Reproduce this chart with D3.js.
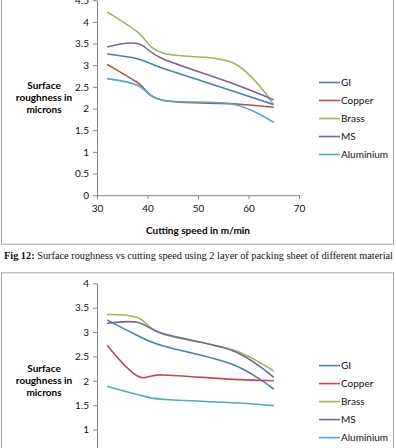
<!DOCTYPE html>
<html>
<head>
<meta charset="utf-8">
<script src="https://cdn.jsdelivr.net/npm/d3@7"></script>
<style>
  body { margin: 0; background: #fff; }
  svg { display: block; }
</style>
</head>
<body>
<div id="chart"></div>
<script>
const speeds = [32, 38, 43, 57, 65];
const materials = ["GI", "Copper", "Brass", "MS", "Aluminium"];
const materialColors = ["#4a7ebb", "#be4b48", "#98b954", "#7d60a0", "#4bacc6"];
const xTicks = [30, 40, 50, 60, 70];

// top chart (Fig 12, 2 layers of packing sheet)
const fig12GI = [3.26, 3.15, 2.93, 2.40, 2.09];
const fig12Copper = [3.02, 2.60, 2.19, 2.11, 2.03];
const fig12Brass = [4.23, 3.77, 3.28, 3.05, 2.09];
const fig12MS = [3.42, 3.50, 3.15, 2.57, 2.20];
const fig12Aluminium = [2.69, 2.54, 2.19, 2.10, 1.68];
const fig12YTicks = [0, 0.5, 1, 1.5, 2, 2.5, 3, 3.5, 4, 4.5];

// bottom chart (next figure, its x axis falls below the picture)
const fig13GI = [3.25, 2.93, 2.72, 2.33, 1.83];
const fig13Copper = [2.73, 2.10, 2.12, 2.03, 2.00];
const fig13Brass = [3.36, 3.30, 2.96, 2.63, 2.20];
const fig13MS = [3.18, 3.20, 2.97, 2.61, 2.07];
const fig13Aluminium = [1.89, 1.72, 1.62, 1.55, 1.49];
const fig13YTicks = [0, 0.5, 1, 1.5, 2, 2.5, 3, 3.5, 4];

const captionBold = "Fig 12:";
const captionText = " Surface roughness vs cutting speed using 2 layer of packing sheet of different material";

const width = 396, height = 448;
const plotLeft = 97, plotRight = 299, plotHeight = 195;
const labelFont = "Lato, 'Open Sans', sans-serif";

const svg = d3.select("#chart").append("svg")
    .attr("width", width)
    .attr("height", height);

function drawChart(top, yMax, yTicks, seriesList, showXLabels) {
    const g = svg.append("g").attr("transform", `translate(0,${top})`);

    //chart border
    g.append("rect")
        .attr("x", 1.5).attr("y", -10.5)
        .attr("width", 392).attr("height", 254.5)
        .attr("fill", "none")
        .attr("stroke", "#a6a6a6");

    const x = d3.scaleLinear().domain([30, 70]).range([plotLeft, plotRight]);
    const y = d3.scaleLinear().domain([0, yMax]).range([plotHeight, 0]);

    //x axis
    const xAxis = g.append("g")
        .attr("transform", `translate(0,${plotHeight})`)
        .call(d3.axisBottom(x).tickValues(xTicks).tickSize(4).tickSizeOuter(0).tickPadding(6));
    if (!showXLabels) xAxis.selectAll(".tick text").remove();

    //y axis
    const yAxis = g.append("g")
        .attr("transform", `translate(${plotLeft},0)`)
        .call(d3.axisLeft(y).tickValues(yTicks).tickFormat(d3.format("")).tickSize(4).tickSizeOuter(0).tickPadding(4));

    [xAxis, yAxis].forEach(a => {
        a.select(".domain").attr("stroke", "#868686");
        a.selectAll(".tick line").attr("stroke", "#868686");
        a.selectAll(".tick text")
            .style("font-family", labelFont)
            .style("font-size", "10px")
            .attr("fill", "#111");
    });

    //axis titles
    if (showXLabels) {
        g.append("text")
            .attr("x", 198).attr("y", 234)
            .attr("text-anchor", "middle")
            .style("font-family", labelFont)
            .style("font-size", "10px")
            .style("font-weight", "bold")
            .text("Cutting speed in m/min");
    }

    ["Surface", "roughness in", "microns"].forEach((t, i) => {
        g.append("text")
            .attr("x", 44).attr("y", 89 + i * 11.7)
            .attr("text-anchor", "middle")
            .style("font-family", labelFont)
            .style("font-size", "10px")
            .style("font-weight", "bold")
            .text(t);
    });

    //smoothed lines like the spreadsheet
    const line = d3.line()
        .x((d, i) => x(speeds[i]))
        .y(d => y(d))
        .curve(d3.curveCardinal.tension(0));

    g.append("g")
        .selectAll("path")
        .data(seriesList)
        .join("path")
            .attr("d", d => line(d))
            .attr("fill", "none")
            .attr("stroke", (d, i) => materialColors[i])
            .attr("stroke-width", 1.6);

    //legend
    const legend = g.append("g")
        .selectAll("g")
        .data(materials)
        .join("g")
            .attr("transform", (d, i) => `translate(319,${82.3 + i * 18})`);

    legend.append("line")
        .attr("x1", 0).attr("x2", 21)
        .attr("stroke", (d, i) => materialColors[i])
        .attr("stroke-width", 1.6);

    legend.append("text")
        .attr("x", 22).attr("y", 3.6)
        .style("font-family", labelFont)
        .style("font-size", "10px")
        .attr("fill", "#111")
        .text(d => d);
}

drawChart(0.2, 4.5, fig12YTicks, [fig12GI, fig12Copper, fig12Brass, fig12MS, fig12Aluminium], true);
drawChart(283.3, 4, fig13YTicks, [fig13GI, fig13Copper, fig13Brass, fig13MS, fig13Aluminium], false);

//caption between the charts
const caption = svg.append("text")
    .attr("x", 4).attr("y", 258.5)
    .style("font-family", "'Liberation Serif', 'DejaVu Serif', serif")
    .style("font-size", "10.3px")
    .attr("fill", "#111");
caption.append("tspan").style("font-weight", "bold").text(captionBold);
caption.append("tspan").text(captionText);
</script>
</body>
</html>
